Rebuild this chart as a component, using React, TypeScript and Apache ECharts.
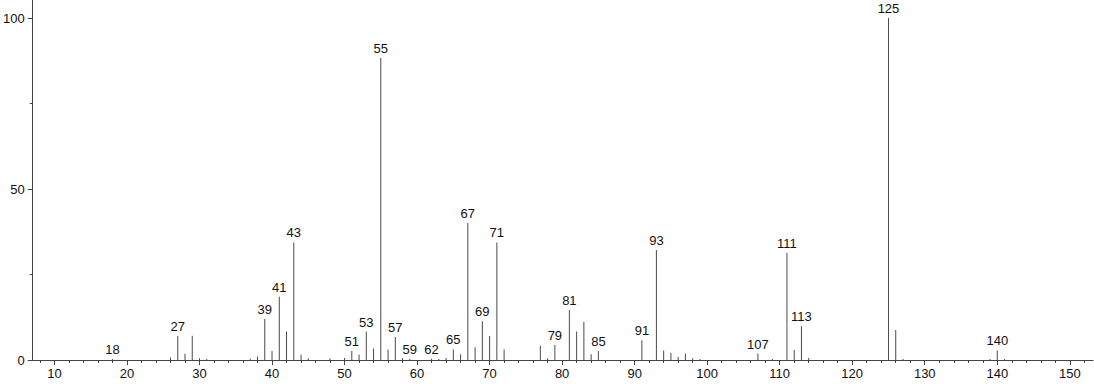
import React, { useEffect, useRef } from "react";
import * as echarts from "echarts";

const mzValues = [
  18, 26, 27, 28, 29, 30, 31, 37, 38, 39, 40, 41, 42, 43, 44, 45, 48, 50, 51, 52, 53, 54, 55, 56, 57, 58,
  59, 62, 63, 64, 65, 66, 67, 68, 69, 70, 71, 72, 77, 78, 79, 81, 82, 83, 84, 85, 91, 93, 94, 95, 96, 97,
  98, 99, 107, 109, 111, 112, 113, 114, 125, 126, 127, 139, 140, 141,
];
const intensities = [
  0.3, 0.7, 7.0, 1.8, 7.1, 0.5, 0.3, 0.4, 1.0, 12.0, 2.6, 18.5, 8.3, 34.4, 1.5, 0.5, 0.5, 0.6, 2.6, 1.6, 8.3, 3.4, 88.3, 3.1, 6.7, 0.6,
  0.4, 0.4, 0.3, 0.6, 3.1, 1.7, 40.1, 3.7, 11.3, 7.0, 34.4, 3.1, 4.2, 0.5, 4.4, 14.6, 8.3, 11.2, 1.7, 2.6, 5.8, 32.2, 2.8, 2.1, 0.9, 1.9,
  0.5, 0.3, 1.9, 0.3, 31.4, 2.9, 9.9, 0.6, 100, 8.8, 0.3, 0.3, 2.8, 0.3,
];
const labeledPeaks = [18, 27, 39, 41, 43, 51, 53, 55, 57, 59, 62, 65, 67, 69, 71, 79, 81, 85, 91, 93, 107, 111, 113, 125, 140];
const xMajorTicks = [10, 20, 30, 40, 50, 60, 70, 80, 90, 100, 110, 120, 130, 140, 150];
const xMinorTicks = [8, 12, 14, 16, 18, 22, 24, 26, 28, 32, 34, 36, 38, 42, 44, 46, 48, 52, 54, 56, 58, 62, 64, 66, 68, 72, 74, 76, 78, 82, 84, 86, 88, 92, 94, 96, 98, 102, 104, 106, 108, 112, 114, 116, 118, 122, 124, 126, 128, 132, 134, 136, 138, 142, 144, 146, 148, 152];
const yMajorTicks = [0, 50, 100];
const yMinorTicks = [25, 75];

export default function App() {
  const ref = useRef<HTMLDivElement>(null);
  useEffect(() => {
    if (!ref.current) return;
    const chart = echarts.init(ref.current, null, { renderer: "svg" });
    const axisColor = "#444";
    const font = "'Liberation Sans', Arial, sans-serif";
    const data = mzValues.map((m, i) => [m, intensities[i]]);
    chart.setOption({
      animation: false,
      backgroundColor: "#fff",
      grid: { left: 31, right: 1, top: 0, bottom: 24, containLabel: false },
      xAxis: [
        {
          type: "value",
          min: 7,
          max: 153.2,
          axisLine: { show: true, lineStyle: { color: axisColor, width: 1 } },
          axisTick: { show: true, customValues: xMajorTicks, length: 5, lineStyle: { color: axisColor } },
          axisLabel: { customValues: xMajorTicks, fontSize: 13, color: "#111", fontFamily: font, margin: 7 },
          splitLine: { show: false },
        },
        {
          type: "value",
          min: 7,
          max: 153.2,
          position: "bottom",
          axisLine: { show: false },
          axisTick: { show: true, customValues: xMinorTicks, length: 3, lineStyle: { color: axisColor } },
          axisLabel: { show: false },
          splitLine: { show: false },
        },
      ],
      yAxis: [
        {
          type: "value",
          min: 0,
          max: 105.3,
          axisLine: { show: true, lineStyle: { color: axisColor, width: 1 } },
          axisTick: { show: true, customValues: yMajorTicks, length: 5, lineStyle: { color: axisColor } },
          axisLabel: { customValues: yMajorTicks, fontSize: 13, color: "#111", fontFamily: font, margin: 8 },
          splitLine: { show: false },
        },
        {
          type: "value",
          min: 0,
          max: 105.3,
          position: "left",
          axisLine: { show: false },
          axisTick: { show: true, customValues: yMinorTicks, length: 3, lineStyle: { color: axisColor } },
          axisLabel: { show: false },
          splitLine: { show: false },
        },
      ],
      series: [
        {
          type: "bar",
          xAxisIndex: 0,
          yAxisIndex: 0,
          data,
          barWidth: 1,
          itemStyle: { color: "#4a4a4a" },
          label: {
            show: true,
            position: "top",
            distance: 3,
            fontSize: 13,
            color: "#111",
            fontFamily: font,
            formatter: (p: any) => (labeledPeaks.includes(p.value[0]) ? String(p.value[0]) : ""),
          },
        },
      ],
    });
    return () => chart.dispose();
  }, []);
  return <div ref={ref} style={{ position: "fixed", left: 0, top: 0, width: 1094, height: 384 }} />;
}
